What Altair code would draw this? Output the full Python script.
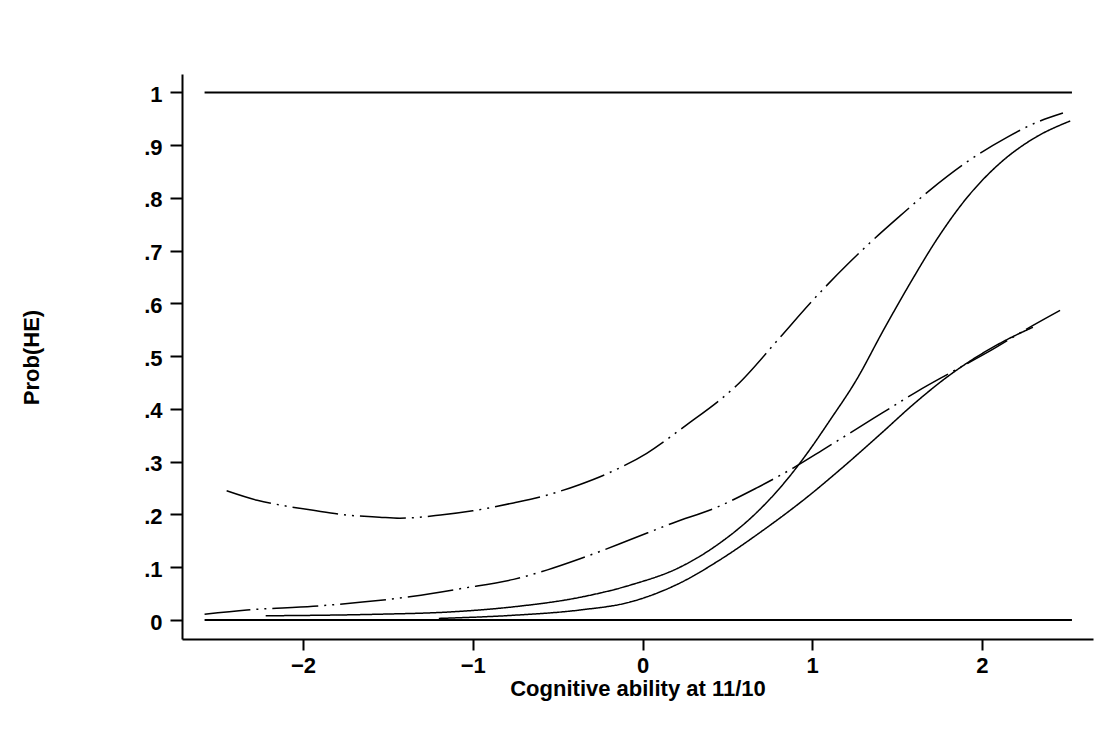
import json
import altair as alt
import pandas as pd

# ---- axis text ----
x_ticks = [-2, -1, 0, 1, 2]
y_ticks = [0, 0.1, 0.2, 0.3, 0.4, 0.5, 0.6, 0.7, 0.8, 0.9, 1.0]
y_tick_labels = ["0", ".1", ".2", ".3", ".4", ".5", ".6", ".7", ".8", ".9", "1"]
x_title = "Cognitive ability at 11/10"
y_title = "Prob(HE)"

# ---- horizontal reference lines ----
ref_levels = [0, 1]
ref_x_start = [-2.58, -2.58]
ref_x_end = [2.53, 2.53]

# ---- curves ----
steep_x = [-2.22, -1.55, -1.15, -0.76, -0.368, -0.074, 0.22, 0.456, 0.67, 0.83,
           0.97, 1.105, 1.26, 1.417, 1.576, 1.735, 1.91, 2.106, 2.3, 2.52]
steep_y = [0.008, 0.011, 0.015, 0.025, 0.043, 0.066, 0.10, 0.146, 0.203, 0.258,
           0.316, 0.379, 0.455, 0.548, 0.638, 0.722, 0.80, 0.866, 0.912, 0.946]

lower_x = [-1.2, -0.76, -0.368, -0.074, 0.22, 0.456, 0.71, 0.97, 1.16, 1.4,
           1.6, 1.8, 2.0, 2.15, 2.3]
lower_y = [0.003, 0.009, 0.019, 0.034, 0.07, 0.114, 0.17, 0.233, 0.284, 0.352,
           0.41, 0.462, 0.505, 0.532, 0.555]

upper_ci_x = [-2.45, -2.27, -2.135, -1.94, -1.74, -1.55, -1.43, -1.19, -1.0, -0.76,
              -0.56, -0.368, -0.19, 0.025, 0.26, 0.456, 0.556, 0.8, 1.0, 1.22,
              1.34, 1.517, 1.69, 1.91, 2.147, 2.32, 2.477]
upper_ci_y = [0.245, 0.227, 0.218, 0.208, 0.199, 0.195, 0.193, 0.199, 0.207, 0.222,
              0.237, 0.257, 0.28, 0.316, 0.37, 0.417, 0.445, 0.532, 0.605, 0.678,
              0.715, 0.766, 0.814, 0.868, 0.915, 0.943, 0.961]

lower_ci_x = [-2.58, -2.33, -1.94, -1.65, -1.35, -1.06, -0.76, -0.56, -0.368, -0.074,
              0.18, 0.44, 0.67, 0.887, 1.06, 1.2, 1.36, 1.5, 1.617, 1.81,
              2.047, 2.265, 2.46]
lower_ci_y = [0.011, 0.019, 0.026, 0.034, 0.045, 0.06, 0.077, 0.095, 0.116, 0.152,
              0.184, 0.214, 0.25, 0.288, 0.322, 0.35, 0.382, 0.41, 0.433, 0.468,
              0.51, 0.552, 0.587]

series = [
    ("steep", "solid", steep_x, steep_y),
    ("lower", "solid", lower_x, lower_y),
    ("upper_ci", "dashdot", upper_ci_x, upper_ci_y),
    ("lower_ci", "dashdot", lower_ci_x, lower_ci_y),
]
rows = []
for name, style, xs, ys in series:
    for i, (xv, yv) in enumerate(zip(xs, ys)):
        rows.append({"series": name, "style": style, "x": xv, "y": yv, "order": i})
curves = pd.DataFrame(rows)

refs = pd.DataFrame({"y": ref_levels, "x0": ref_x_start, "x1": ref_x_end})

FONT = "Liberation Sans"
x_scale = alt.Scale(domain=[-2.713, 2.654], nice=False, zero=False)
y_scale = alt.Scale(domain=[-0.036, 1.035], nice=False, zero=False)

label_expr = json.dumps(y_tick_labels) + "[round(datum.value*10)]"

x_axis = alt.Axis(values=x_ticks, title=x_title, format="d", tickSize=11,
                  labelPadding=5, titleY=56, titleBaseline="alphabetic",
                  titleAnchor="middle")
y_axis = alt.Axis(values=y_ticks, title=y_title, labelExpr=label_expr, tickSize=12,
                  labelPadding=8, labelOffset=2, titleX=-144, titleY=283,
                  titleBaseline="alphabetic", titleAngle=270, titleAlign="center")

rules = alt.Chart(refs).mark_rule(color="black", strokeWidth=2).encode(
    x=alt.X("x0:Q", scale=x_scale, axis=x_axis),
    x2="x1:Q",
    y=alt.Y("y:Q", scale=y_scale, axis=y_axis),
)

lines = alt.Chart(curves).mark_line(color="black", strokeWidth=1.5,
                                    interpolate="monotone").encode(
    x=alt.X("x:Q", scale=x_scale, axis=x_axis),
    y=alt.Y("y:Q", scale=y_scale, axis=y_axis),
    detail="series:N",
    order="order:Q",
    strokeDash=alt.StrokeDash(
        "style:N",
        scale=alt.Scale(domain=["solid", "dashdot"],
                        range=[[1, 0], [46, 6, 2, 6, 2, 6]]),
        legend=None,
    ),
)

chart = alt.layer(rules, lines).properties(
    width=911,
    height=565,
    autosize=alt.AutoSizeParams(type="none"),
    padding={"left": 182, "top": 74, "right": 17, "bottom": 99},
    background="white",
).configure_view(stroke=None).configure_axis(
    grid=False,
    domainColor="black",
    domainWidth=2,
    tickColor="black",
    tickWidth=2,
    labelFont=FONT,
    labelFontSize=22,
    labelFontWeight="bold",
    labelColor="black",
    titleFont=FONT,
    titleFontSize=22,
    titleFontWeight="bold",
    titleColor="black",
)

chart.save("out.html", embed_options={"renderer": "svg", "actions": False})
